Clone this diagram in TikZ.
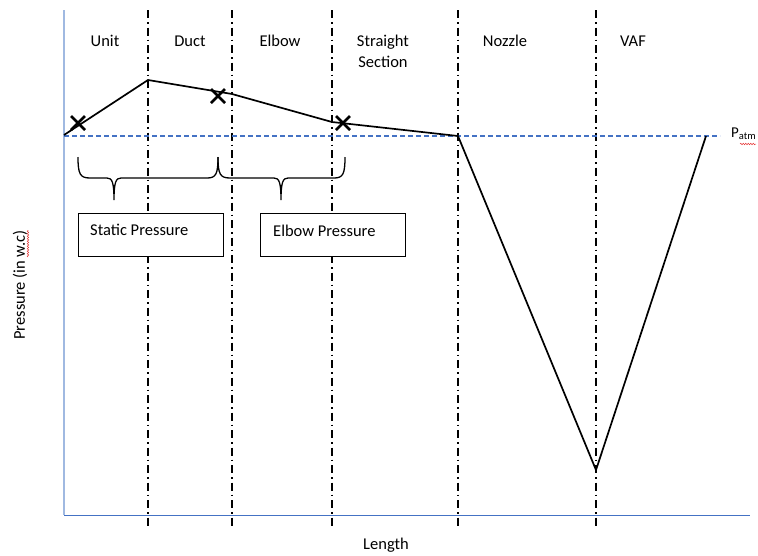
\documentclass[tikz,border=0pt]{standalone}
\usepackage{fontspec}
\setmainfont{Carlito}
\usetikzlibrary{decorations.pathmorphing}
\definecolor{axblue}{RGB}{68,114,196}
\definecolor{axlight}{RGB}{160,185,225}
\definecolor{squig}{RGB}{230,60,60}
\begin{document}
\begin{tikzpicture}[x=1pt,y=-1pt,
  lbl/.style={font=\fontsize{16.5}{21}\selectfont, inner sep=0pt, align=center},
  sect/.style={black, line width=1.4pt, dash pattern=on 8pt off 4pt on 1.5pt off 4pt},
  curve/.style={black, line width=1.7pt},
  xmark/.style={black, line width=2.8pt},
  bracestyle/.style={black, line width=1.3pt},
  labbox/.style={draw=black, fill=white, line width=0.8pt, minimum width=145pt, minimum height=43pt, inner sep=0pt},
  squiggle/.style={squig, line width=0.5pt, decorate, decoration={snake, amplitude=0.8pt, segment length=2.5pt}}]
\useasboundingbox (0,0) rectangle (758,555);
% axes
\coordinate (ytop) at (64,10);
\coordinate (orig) at (64,515);
\coordinate (xend) at (750,515);
\draw[axlight, line width=1.2pt] (ytop) -- (orig);
\draw[axblue, line width=1pt] (orig) -- (xend);
% section dividers
\foreach \x/\n in {148/a,232/b,332/c,458/d,596/e} {
  \coordinate (t\n) at (\x,10);
  \coordinate (b\n) at (\x,527);
  \draw[sect] (t\n) -- (b\n);
}
% atmospheric line
\coordinate (pa0) at (64,136);
\coordinate (pa1) at (720,136);
\draw[axblue, line width=1.2pt, dash pattern=on 5pt off 3pt] (pa0) -- (pa1);
\node[anchor=west, inner sep=0pt, font=\fontsize{15}{17}\selectfont] (patm) at (731,134) {P\textsubscript{atm}};
\draw[squiggle] (740,144) -- (756,144);
% pressure curve
\coordinate (p0) at (64,135);
\coordinate (p1) at (148,80);
\coordinate (p2) at (232,94);
\coordinate (p3) at (332,122);
\coordinate (p4) at (458,136);
\coordinate (p5) at (596,470);
\coordinate (p6) at (706,136);
\draw[curve, line join=miter] (p0) -- (p1) -- (p2) -- (p3) -- (p4) -- (p5) -- (p6);
% x marks
\foreach \x/\y/\n in {78/123/m1, 218/96/m2, 343/123/m3} {
  \coordinate (\n) at (\x,\y);
  \draw[xmark] ([shift={(-7,-7)}]\n) -- ([shift={(7,7)}]\n);
  \draw[xmark] ([shift={(-7,7)}]\n) -- ([shift={(7,-7)}]\n);
}
% braces
\coordinate (br1a) at (78,157);
\coordinate (br1t) at (114,200);
\coordinate (br1b) at (218,157);
\draw[bracestyle] (br1a) .. controls (78,174) and (80,178) .. (90,178) -- (107,178)
  .. controls (112,178) and (114,182) .. (br1t)
  .. controls (114,182) and (116,178) .. (121,178) -- (207,178)
  .. controls (216,178) and (218,174) .. (br1b);
\coordinate (br2a) at (218,157);
\coordinate (br2t) at (281,200);
\coordinate (br2b) at (345,157);
\draw[bracestyle] (br2a) .. controls (218,174) and (220,178) .. (230,178) -- (274,178)
  .. controls (279,178) and (281,182) .. (br2t)
  .. controls (281,182) and (283,178) .. (288,178) -- (334,178)
  .. controls (343,178) and (345,174) .. (br2b);
% boxes
\node[labbox] (sp) at (150.5,234.5) {};
\node[lbl, anchor=west] (spt) at (90,230) {Static Pressure};
\node[labbox] (ep) at (332.5,234.5) {};
\node[lbl, anchor=west] (ept) at (273,231) {Elbow Pressure};
% section labels
\node[lbl] (unit) at (105,41) {Unit};
\node[lbl] (duct) at (190,41) {Duct};
\node[lbl] (elbow) at (280,41) {Elbow};
\node[lbl] (straight) at (383,51.5) {Straight\\Section};
\node[lbl] (nozzle) at (505,41) {Nozzle};
\node[lbl] (vaf) at (633,41) {VAF};
% axis labels
\node[lbl, rotate=90] (ylab) at (20,285) {Pressure (in w.c)};
\draw[squiggle] (28,257) -- (28,230);
\node[lbl] (xlab) at (386,545) {Length};
\end{tikzpicture}
\end{document}
